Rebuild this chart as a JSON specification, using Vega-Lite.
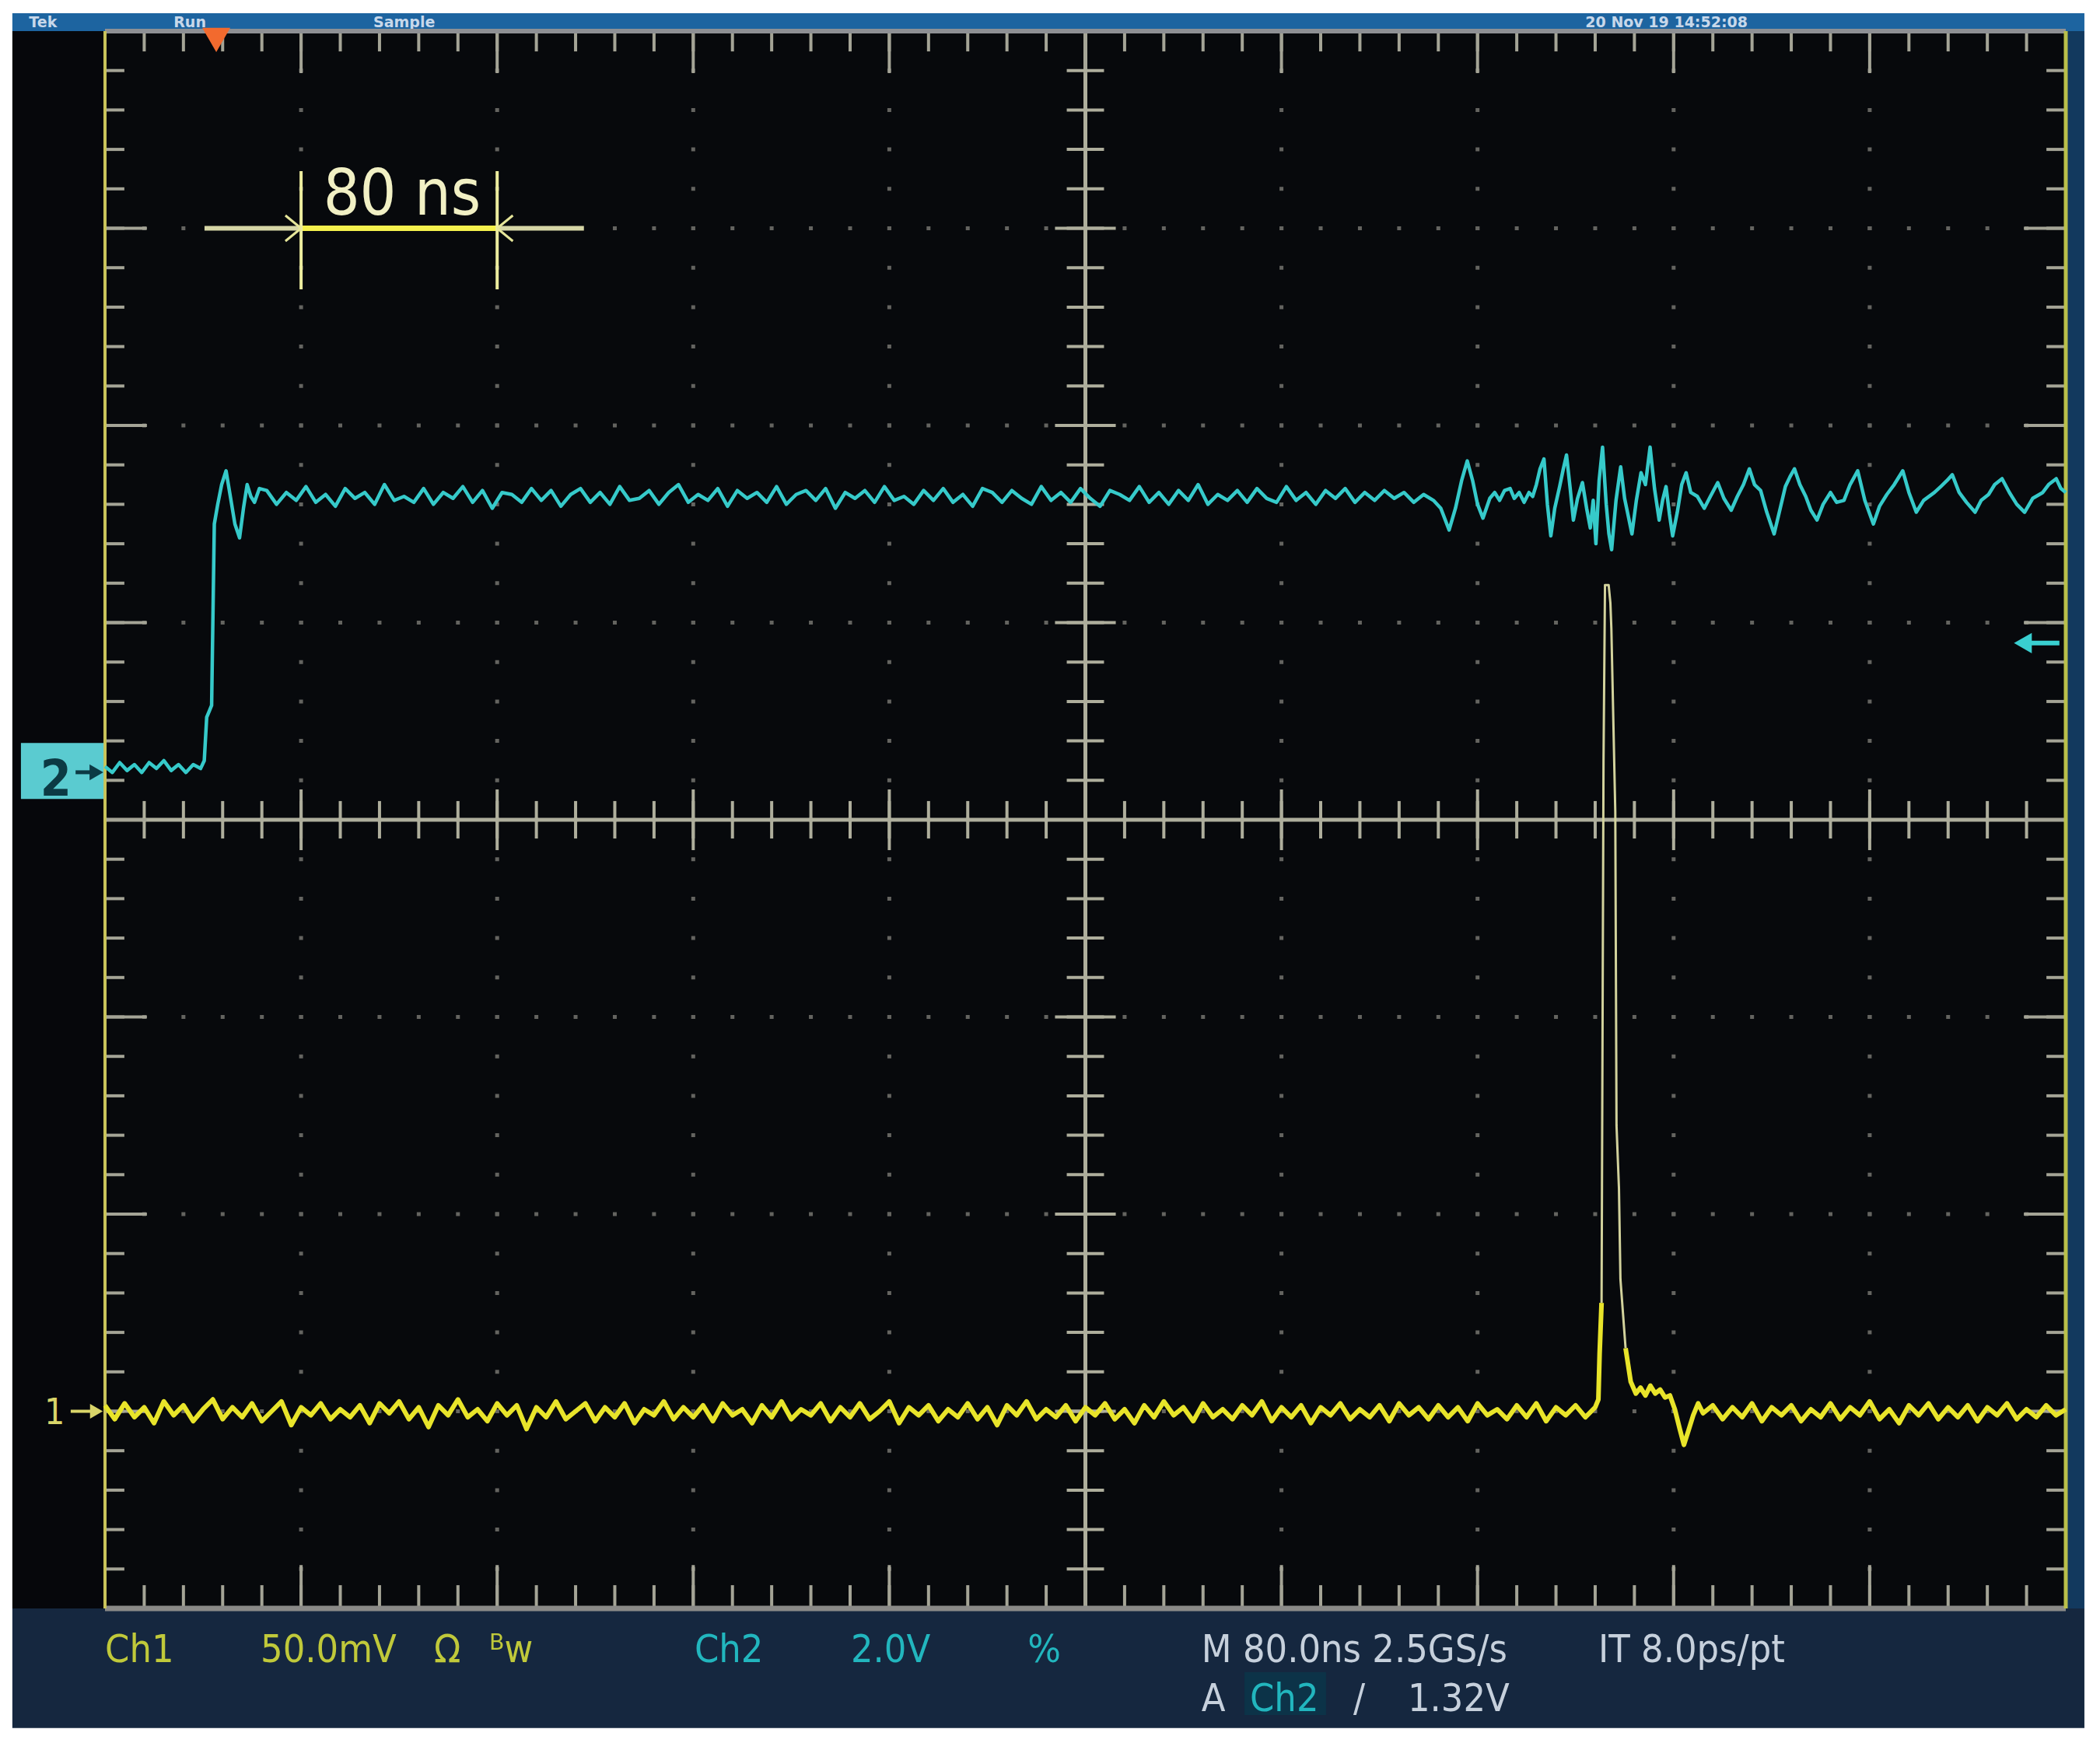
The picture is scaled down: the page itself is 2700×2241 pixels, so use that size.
{
"$schema": "https://vega.github.io/schema/vega-lite/v6.json",
"width": 2521,
"height": 2028,
"autosize": {"type": "none"},
"padding": {"left": 135, "top": 40, "right": 44, "bottom": 173},
"background": "#ffffff",
"config": {"view": {"stroke": null, "fill": "#07090c"}},
"datasets": {
"xt": [{"p":16},{"p":32},{"p":48},{"p":64},{"p":80},{"p":96},{"p":112},{"p":128},{"p":144},{"p":160},{"p":176},{"p":192},{"p":208},{"p":224},{"p":240},{"p":256},{"p":272},{"p":288},{"p":304},{"p":320},{"p":336},{"p":352},{"p":368},{"p":384},{"p":400},{"p":416},{"p":432},{"p":448},{"p":464},{"p":480},{"p":496},{"p":512},{"p":528},{"p":544},{"p":560},{"p":576},{"p":592},{"p":608},{"p":624},{"p":640},{"p":656},{"p":672},{"p":688},{"p":704},{"p":720},{"p":736},{"p":752},{"p":768},{"p":784}],
"xm": [{"p":80},{"p":160},{"p":240},{"p":320},{"p":400},{"p":480},{"p":560},{"p":640},{"p":720}],
"yt": [{"p":-3.8},{"p":-3.6},{"p":-3.4},{"p":-3.2},{"p":-3},{"p":-2.8},{"p":-2.6},{"p":-2.4},{"p":-2.2},{"p":-2},{"p":-1.8},{"p":-1.6},{"p":-1.4},{"p":-1.2},{"p":-1},{"p":-0.8},{"p":-0.6},{"p":-0.4},{"p":-0.2},{"p":0},{"p":0.2},{"p":0.4},{"p":0.6},{"p":0.8},{"p":1},{"p":1.2},{"p":1.4},{"p":1.6},{"p":1.8},{"p":2},{"p":2.2},{"p":2.4},{"p":2.6},{"p":2.8},{"p":3},{"p":3.2},{"p":3.4},{"p":3.6},{"p":3.8}],
"ym": [{"p":-3},{"p":-2},{"p":-1},{"p":0},{"p":1},{"p":2},{"p":3}],
"ch2": [{"t":0,"v":0.27},{"t":3,"v":0.24},{"t":6,"v":0.29},{"t":9,"v":0.25},{"t":12,"v":0.28},{"t":15,"v":0.24},{"t":18,"v":0.29},{"t":21,"v":0.26},{"t":24,"v":0.3},{"t":27,"v":0.25},{"t":30,"v":0.28},{"t":33,"v":0.24},{"t":36,"v":0.28},{"t":39,"v":0.26},{"t":40.5,"v":0.3},{"t":41.5,"v":0.52},{"t":42.5,"v":0.55},{"t":43.5,"v":0.58},{"t":44.6,"v":1.5},{"t":46,"v":1.6},{"t":47.6,"v":1.7},{"t":49.4,"v":1.77},{"t":51,"v":1.65},{"t":53,"v":1.5},{"t":54.9,"v":1.43},{"t":56.5,"v":1.58},{"t":58,"v":1.7},{"t":59.5,"v":1.64},{"t":61,"v":1.61},{"t":63,"v":1.68},
{"t":66,"v":1.67},{"t":70,"v":1.6},{"t":74,"v":1.66},{"t":78,"v":1.62},{"t":82,"v":1.69},{"t":86,"v":1.61},{"t":90,"v":1.65},{"t":94,"v":1.59},{"t":98,"v":1.68},{"t":102,"v":1.63},{"t":106,"v":1.66},{"t":110,"v":1.6},{"t":114,"v":1.7},{"t":118,"v":1.62},{"t":122,"v":1.64},{"t":126,"v":1.61},{"t":130,"v":1.68},{"t":134,"v":1.6},{"t":138,"v":1.66},{"t":142,"v":1.63},{"t":146,"v":1.69},{"t":150,"v":1.61},{"t":154,"v":1.67},{"t":158,"v":1.58},{"t":162,"v":1.66},{"t":166,"v":1.65},{"t":170,"v":1.61},{"t":174,"v":1.68},{"t":178,"v":1.62},{"t":182,"v":1.67},{"t":186,"v":1.59},{"t":190,"v":1.65},{"t":194,"v":1.68},{"t":198,"v":1.61},{"t":202,"v":1.66},{"t":206,"v":1.6},{"t":210,"v":1.69},{"t":214,"v":1.62},{"t":218,"v":1.63},{"t":222,"v":1.67},{"t":226,"v":1.6},{"t":230,"v":1.66},{"t":234,"v":1.7},{"t":238,"v":1.61},{"t":242,"v":1.65},{"t":246,"v":1.62},{"t":250,"v":1.68},{"t":254,"v":1.59},{"t":258,"v":1.67},{"t":262,"v":1.63},{"t":266,"v":1.66},{"t":270,"v":1.61},{"t":274,"v":1.69},{"t":278,"v":1.6},{"t":282,"v":1.65},{"t":286,"v":1.67},{"t":290,"v":1.62},{"t":294,"v":1.68},{"t":298,"v":1.58},{"t":302,"v":1.66},{"t":306,"v":1.63},{"t":310,"v":1.67},{"t":314,"v":1.61},{"t":318,"v":1.69},{"t":322,"v":1.62},{"t":326,"v":1.64},{"t":330,"v":1.6},{"t":334,"v":1.67},{"t":338,"v":1.62},{"t":342,"v":1.68},{"t":346,"v":1.61},{"t":350,"v":1.65},{"t":354,"v":1.59},{"t":358,"v":1.68},{"t":362,"v":1.66},{"t":366,"v":1.61},{"t":370,"v":1.67},{"t":374,"v":1.63},{"t":378,"v":1.6},{"t":382,"v":1.69},{"t":386,"v":1.62},{"t":390,"v":1.66},{"t":394,"v":1.61},{"t":398,"v":1.68},{"t":402,"v":1.63},{"t":406,"v":1.59},{"t":410,"v":1.67},{"t":414,"v":1.65},{"t":418,"v":1.62},{"t":422,"v":1.69},{"t":426,"v":1.61},{"t":430,"v":1.66},{"t":434,"v":1.6},{"t":438,"v":1.67},{"t":442,"v":1.62},{"t":446,"v":1.7},{"t":450,"v":1.6},{"t":454,"v":1.65},{"t":458,"v":1.62},{"t":462,"v":1.67},{"t":466,"v":1.61},{"t":470,"v":1.68},{"t":474,"v":1.63},{"t":478,"v":1.61},{"t":482,"v":1.69},{"t":486,"v":1.62},{"t":490,"v":1.66},{"t":494,"v":1.6},{"t":498,"v":1.67},{"t":502,"v":1.63},{"t":506,"v":1.68},{"t":510,"v":1.61},{"t":514,"v":1.66},{"t":518,"v":1.62},{"t":522,"v":1.67},{"t":526,"v":1.63},{"t":530,"v":1.66},{"t":534,"v":1.61},{"t":538,"v":1.65},{"t":542,"v":1.62},{"t":545,"v":1.58},{"t":548.4,"v":1.47},{"t":551,"v":1.58},{"t":553.5,"v":1.72},{"t":555.8,"v":1.82},{"t":558,"v":1.72},{"t":560,"v":1.6},{"t":562.2,"v":1.53},{"t":565,"v":1.63},{"t":567,"v":1.66},{"t":569,"v":1.62},{"t":571,"v":1.67},{"t":573.3,"v":1.68},{"t":575,"v":1.63},{"t":577,"v":1.66},{"t":579,"v":1.61},{"t":581,"v":1.66},{"t":582.5,"v":1.64},{"t":584,"v":1.7},{"t":585.5,"v":1.78},{"t":587.1,"v":1.83},{"t":588.5,"v":1.6},{"t":589.9,"v":1.44},{"t":591.5,"v":1.58},{"t":593.5,"v":1.69},{"t":595,"v":1.78},{"t":596.3,"v":1.85},{"t":597.8,"v":1.68},{"t":599.1,"v":1.52},{"t":600.8,"v":1.63},{"t":602.8,"v":1.71},{"t":604.5,"v":1.58},{"t":606,"v":1.48},{"t":607.2,"v":1.62},{"t":608.3,"v":1.4},{"t":609.6,"v":1.72},{"t":611,"v":1.89},{"t":612.5,"v":1.6},{"t":613.6,"v":1.45},{"t":614.7,"v":1.37},{"t":616.5,"v":1.62},{"t":618.4,"v":1.79},{"t":620,"v":1.63},{"t":621.5,"v":1.54},{"t":623,"v":1.45},{"t":624.8,"v":1.62},{"t":626.7,"v":1.76},{"t":628.5,"v":1.7},{"t":630.4,"v":1.89},{"t":632.2,"v":1.68},{"t":634.1,"v":1.52},{"t":635.5,"v":1.62},{"t":636.9,"v":1.69},{"t":638.3,"v":1.55},{"t":639.6,"v":1.44},{"t":641.5,"v":1.56},{"t":643.3,"v":1.7},{"t":645.1,"v":1.76},{"t":647,"v":1.66},{"t":649.7,"v":1.64},{"t":652.5,"v":1.58},{"t":655,"v":1.64},{"t":658,"v":1.71},{"t":660.5,"v":1.63},{"t":663.5,"v":1.57},{"t":666,"v":1.64},{"t":668.5,"v":1.7},{"t":670.9,"v":1.78},{"t":673,"v":1.7},{"t":675.5,"v":1.67},{"t":678,"v":1.56},{"t":681,"v":1.45},{"t":683.5,"v":1.58},{"t":685.6,"v":1.69},{"t":687.5,"v":1.74},{"t":689.3,"v":1.78},{"t":691.5,"v":1.7},{"t":693.9,"v":1.64},{"t":696,"v":1.57},{"t":698.5,"v":1.52},{"t":701,"v":1.6},{"t":704,"v":1.66},{"t":706.5,"v":1.61},{"t":709.5,"v":1.62},{"t":712,"v":1.7},{"t":715.1,"v":1.77},{"t":718,"v":1.62},{"t":721.5,"v":1.5},{"t":724,"v":1.59},{"t":727,"v":1.65},{"t":730,"v":1.7},{"t":733.5,"v":1.77},{"t":736,"v":1.66},{"t":739,"v":1.56},{"t":742,"v":1.62},{"t":746.4,"v":1.66},{"t":749,"v":1.69},{"t":751.5,"v":1.72},{"t":753.7,"v":1.75},{"t":756.5,"v":1.66},{"t":759.5,"v":1.61},{"t":763,"v":1.56},{"t":765.5,"v":1.62},{"t":768.5,"v":1.65},{"t":771,"v":1.7},{"t":774,"v":1.73},{"t":777,"v":1.66},{"t":780,"v":1.6},{"t":783.2,"v":1.56},{"t":786.5,"v":1.63},{"t":790.6,"v":1.66},{"t":793,"v":1.7},{"t":796.1,"v":1.73},{"t":798,"v":1.68},{"t":800,"v":1.66}],
"ch1a": [{"t":0,"v":-2.97},{"t":4,"v":-3.04},{"t":8,"v":-2.96},{"t":12,"v":-3.03},{"t":16,"v":-2.98},{"t":20,"v":-3.06},{"t":24,"v":-2.95},{"t":28,"v":-3.02},{"t":32,"v":-2.97},{"t":36,"v":-3.05},{"t":40,"v":-2.99},{"t":44,"v":-2.94},{"t":48,"v":-3.04},{"t":52,"v":-2.98},{"t":56,"v":-3.03},{"t":60,"v":-2.96},{"t":64,"v":-3.05},{"t":68,"v":-3},{"t":72,"v":-2.95},{"t":76,"v":-3.07},{"t":80,"v":-2.98},{"t":84,"v":-3.02},{"t":88,"v":-2.96},{"t":92,"v":-3.04},{"t":96,"v":-2.99},{"t":100,"v":-3.03},{"t":104,"v":-2.97},{"t":108,"v":-3.06},{"t":112,"v":-2.96},{"t":116,"v":-3.01},{"t":120,"v":-2.95},{"t":124,"v":-3.04},{"t":128,"v":-2.98},{"t":132,"v":-3.08},{"t":136,"v":-2.97},{"t":140,"v":-3.02},{"t":144,"v":-2.94},{"t":148,"v":-3.03},{"t":152,"v":-2.99},{"t":156,"v":-3.05},{"t":160,"v":-2.96},{"t":164,"v":-3.02},{"t":168,"v":-2.97},{"t":172,"v":-3.09},{"t":176,"v":-2.98},{"t":180,"v":-3.03},{"t":184,"v":-2.95},{"t":188,"v":-3.04},{"t":192,"v":-3},{"t":196,"v":-2.96},{"t":200,"v":-3.05},{"t":204,"v":-2.98},{"t":208,"v":-3.03},{"t":212,"v":-2.96},{"t":216,"v":-3.06},{"t":220,"v":-2.99},{"t":224,"v":-3.02},{"t":228,"v":-2.95},{"t":232,"v":-3.04},{"t":236,"v":-2.98},{"t":240,"v":-3.03},{"t":244,"v":-2.97},{"t":248,"v":-3.05},{"t":252,"v":-2.96},{"t":256,"v":-3.02},{"t":260,"v":-2.99},{"t":264,"v":-3.06},{"t":268,"v":-2.97},{"t":272,"v":-3.03},{"t":276,"v":-2.95},{"t":280,"v":-3.04},{"t":284,"v":-2.99},{"t":288,"v":-3.02},{"t":292,"v":-2.96},{"t":296,"v":-3.05},{"t":300,"v":-2.98},{"t":304,"v":-3.03},{"t":308,"v":-2.96},{"t":312,"v":-3.04},{"t":316,"v":-3},{"t":320,"v":-2.95},{"t":324,"v":-3.06},{"t":328,"v":-2.98},{"t":332,"v":-3.02},{"t":336,"v":-2.97},{"t":340,"v":-3.05},{"t":344,"v":-2.99},{"t":348,"v":-3.03},{"t":352,"v":-2.96},{"t":356,"v":-3.04},{"t":360,"v":-2.98},{"t":364,"v":-3.07},{"t":368,"v":-2.97},{"t":372,"v":-3.02},{"t":376,"v":-2.95},{"t":380,"v":-3.04},{"t":384,"v":-2.99},{"t":388,"v":-3.03},{"t":392,"v":-2.97},{"t":396,"v":-3.05},{"t":400,"v":-2.98},{"t":404,"v":-3.02},{"t":408,"v":-2.96},{"t":412,"v":-3.04},{"t":416,"v":-2.99},{"t":420,"v":-3.06},{"t":424,"v":-2.97},{"t":428,"v":-3.03},{"t":432,"v":-2.95},{"t":436,"v":-3.02},{"t":440,"v":-2.98},{"t":444,"v":-3.05},{"t":448,"v":-2.96},{"t":452,"v":-3.03},{"t":456,"v":-2.99},{"t":460,"v":-3.04},{"t":464,"v":-2.97},{"t":468,"v":-3.02},{"t":472,"v":-2.95},{"t":476,"v":-3.05},{"t":480,"v":-2.98},{"t":484,"v":-3.03},{"t":488,"v":-2.97},{"t":492,"v":-3.06},{"t":496,"v":-2.98},{"t":500,"v":-3.02},{"t":504,"v":-2.96},{"t":508,"v":-3.04},{"t":512,"v":-2.99},{"t":516,"v":-3.03},{"t":520,"v":-2.97},{"t":524,"v":-3.05},{"t":528,"v":-2.96},{"t":532,"v":-3.02},{"t":536,"v":-2.98},{"t":540,"v":-3.04},{"t":544,"v":-2.97},{"t":548,"v":-3.03},{"t":552,"v":-2.98},{"t":556,"v":-3.05},{"t":560,"v":-2.96},{"t":564,"v":-3.02},{"t":568,"v":-2.99},{"t":572,"v":-3.04},{"t":576,"v":-2.97},{"t":580,"v":-3.03},{"t":584,"v":-2.96},{"t":588,"v":-3.05},{"t":592,"v":-2.98},{"t":596,"v":-3.02},{"t":600,"v":-2.97},{"t":604,"v":-3.03},{"t":608,"v":-2.98},{"t":609.3,"v":-2.94},{"t":609.8,"v":-2.71},{"t":610.6,"v":-2.45}],
"ch1p": [{"t":610.6,"v":-2.45},{"t":611.4,"v":0.3},{"t":612,"v":1.19},{"t":613.5,"v":1.19},{"t":614.2,"v":1.1},{"t":614.6,"v":0.97},{"t":616.2,"v":0.04},{"t":616.7,"v":-1.55},{"t":617.7,"v":-1.87},{"t":618.3,"v":-2.33},{"t":620.4,"v":-2.68}],
"ch1b": [{"t":620.4,"v":-2.68},{"t":622.5,"v":-2.85},{"t":624.6,"v":-2.91},{"t":626.5,"v":-2.88},{"t":628.5,"v":-2.92},{"t":630.5,"v":-2.87},{"t":632.5,"v":-2.91},{"t":634.5,"v":-2.89},{"t":636.5,"v":-2.93},{"t":638.5,"v":-2.92},{"t":640.5,"v":-2.99},{"t":642.5,"v":-3.09},{"t":644.2,"v":-3.17},{"t":646,"v":-3.1},{"t":648,"v":-3.02},{"t":650,"v":-2.96},{"t":652,"v":-3.01},{"t":656,"v":-2.97},{"t":660,"v":-3.04},{"t":664,"v":-2.98},{"t":668,"v":-3.03},{"t":672,"v":-2.96},{"t":676,"v":-3.05},{"t":680,"v":-2.98},{"t":684,"v":-3.02},{"t":688,"v":-2.97},{"t":692,"v":-3.05},{"t":696,"v":-2.99},{"t":700,"v":-3.03},{"t":704,"v":-2.96},{"t":708,"v":-3.04},{"t":712,"v":-2.98},{"t":716,"v":-3.02},{"t":720,"v":-2.95},{"t":724,"v":-3.04},{"t":728,"v":-2.99},{"t":732,"v":-3.06},{"t":736,"v":-2.97},{"t":740,"v":-3.02},{"t":744,"v":-2.96},{"t":748,"v":-3.04},{"t":752,"v":-2.98},{"t":756,"v":-3.03},{"t":760,"v":-2.97},{"t":764,"v":-3.05},{"t":768,"v":-2.98},{"t":772,"v":-3.02},{"t":776,"v":-2.96},{"t":780,"v":-3.04},{"t":784,"v":-2.99},{"t":788,"v":-3.03},{"t":792,"v":-2.97},{"t":796,"v":-3.02},{"t":800,"v":-2.99}]
},
"layer": [
{"data":{"values":[{}]},"mark":{"type":"rect","color":"#1d64a0"},"encoding":{"x":{"datum":-37.8,"type":"quantitative","scale":{"domain":[0,800],"nice":false,"zero":false},"axis":null},"x2":{"datum":807.6},"y":{"datum":4.0,"type":"quantitative","scale":{"domain":[-4,4],"nice":false,"zero":false},"axis":null},"y2":{"datum":4.091}}},
{"data":{"values":[{}]},"mark":{"type":"rect","color":"#15273f"},"encoding":{"x":{"datum":-37.8,"type":"quantitative","axis":null},"x2":{"datum":807.6},"y":{"datum":-4.607,"type":"quantitative","axis":null},"y2":{"datum":-4.0}}},
{"data":{"values":[{}]},"mark":{"type":"rect","color":"#06070b"},"encoding":{"x":{"datum":-37.8,"type":"quantitative","axis":null},"x2":{"datum":0},"y":{"datum":-4.0,"type":"quantitative","axis":null},"y2":{"datum":4.0}}},
{"data":{"values":[{}]},"mark":{"type":"rect","color":"#12395e"},"encoding":{"x":{"datum":800,"type":"quantitative","axis":null},"x2":{"datum":807.6},"y":{"datum":-4.0,"type":"quantitative","axis":null},"y2":{"datum":4.0}}},
{"data":{"values":[{"s":"Tek","t":-31},{"s":"Run","t":28},{"s":"Sample","t":109.5},{"s":"20 Nov 19 14:52:08","t":604}]},"mark":{"type":"text","align":"left","baseline":"alphabetic","fontSize":19,"font":"DejaVu Sans","fontWeight":"bold","color":"#c8d8ea"},"encoding":{"x":{"field":"t","type":"quantitative","axis":null},"y":{"datum":4.02,"type":"quantitative","axis":null},"text":{"field":"s"}}},
{"data":{"name":"xm"},"mark":{"type":"rule","color":"#646460","strokeWidth":5,"strokeDash":[5,45.7],"strokeDashOffset":2.5},"encoding":{"x":{"field":"p","type":"quantitative","axis":null},"y":{"datum":-4,"type":"quantitative","axis":null},"y2":{"datum":4}}},
{"data":{"name":"ym"},"mark":{"type":"rule","color":"#646460","strokeWidth":5,"strokeDash":[5,45.42],"strokeDashOffset":2.5},"encoding":{"y":{"field":"p","type":"quantitative","axis":null},"x":{"datum":0,"type":"quantitative","axis":null},"x2":{"datum":800}}},
{"data":{"values":[{}]},"mark":{"type":"rule","color":"#aeae9c","strokeWidth":5},"encoding":{"x":{"datum":400,"type":"quantitative","axis":null},"y":{"datum":-4,"type":"quantitative","axis":null},"y2":{"datum":4}}},
{"data":{"values":[{}]},"mark":{"type":"rule","color":"#aeae9c","strokeWidth":5},"encoding":{"y":{"datum":0,"type":"quantitative","axis":null},"x":{"datum":0,"type":"quantitative","axis":null},"x2":{"datum":800}}},
{"data":{"name":"xt"},"mark":{"type":"rule","color":"#a4a496","strokeWidth":4},"encoding":{"x":{"field":"p","type":"quantitative","axis":null},"y":{"datum":4,"type":"quantitative","axis":null},"y2":{"datum":3.897}}},
{"data":{"name":"xt"},"mark":{"type":"rule","color":"#a4a496","strokeWidth":4},"encoding":{"x":{"field":"p","type":"quantitative","axis":null},"y":{"datum":-4,"type":"quantitative","axis":null},"y2":{"datum":-3.882}}},
{"data":{"name":"xm"},"mark":{"type":"rule","color":"#a4a496","strokeWidth":4},"encoding":{"x":{"field":"p","type":"quantitative","axis":null},"y":{"datum":4,"type":"quantitative","axis":null},"y2":{"datum":3.787}}},
{"data":{"name":"xm"},"mark":{"type":"rule","color":"#a4a496","strokeWidth":4},"encoding":{"x":{"field":"p","type":"quantitative","axis":null},"y":{"datum":-4,"type":"quantitative","axis":null},"y2":{"datum":-3.78}}},
{"data":{"name":"xt"},"mark":{"type":"rule","color":"#aeae9c","strokeWidth":4},"encoding":{"x":{"field":"p","type":"quantitative","axis":null},"y":{"datum":-0.095,"type":"quantitative","axis":null},"y2":{"datum":0.095}}},
{"data":{"name":"xm"},"mark":{"type":"rule","color":"#aeae9c","strokeWidth":4},"encoding":{"x":{"field":"p","type":"quantitative","axis":null},"y":{"datum":-0.154,"type":"quantitative","axis":null},"y2":{"datum":0.154}}},
{"data":{"name":"yt"},"mark":{"type":"rule","color":"#a4a496","strokeWidth":4},"encoding":{"y":{"field":"p","type":"quantitative","axis":null},"x":{"datum":0,"type":"quantitative","axis":null},"x2":{"datum":7.9}}},
{"data":{"name":"yt"},"mark":{"type":"rule","color":"#a4a496","strokeWidth":4},"encoding":{"y":{"field":"p","type":"quantitative","axis":null},"x":{"datum":800,"type":"quantitative","axis":null},"x2":{"datum":792.1}}},
{"data":{"name":"ym"},"mark":{"type":"rule","color":"#a4a496","strokeWidth":4},"encoding":{"y":{"field":"p","type":"quantitative","axis":null},"x":{"datum":0,"type":"quantitative","axis":null},"x2":{"datum":17.1}}},
{"data":{"name":"ym"},"mark":{"type":"rule","color":"#a4a496","strokeWidth":4},"encoding":{"y":{"field":"p","type":"quantitative","axis":null},"x":{"datum":800,"type":"quantitative","axis":null},"x2":{"datum":782.9}}},
{"data":{"name":"yt"},"mark":{"type":"rule","color":"#aeae9c","strokeWidth":4},"encoding":{"y":{"field":"p","type":"quantitative","axis":null},"x":{"datum":392.4,"type":"quantitative","axis":null},"x2":{"datum":407.6}}},
{"data":{"name":"ym"},"mark":{"type":"rule","color":"#aeae9c","strokeWidth":4},"encoding":{"y":{"field":"p","type":"quantitative","axis":null},"x":{"datum":387.6,"type":"quantitative","axis":null},"x2":{"datum":412.4}}},
{"data":{"values":[{}]},"mark":{"type":"rule","color":"#8e9094","strokeWidth":6},"encoding":{"y":{"datum":4,"type":"quantitative","axis":null},"x":{"datum":0,"type":"quantitative","axis":null},"x2":{"datum":800}}},
{"data":{"values":[{}]},"mark":{"type":"rule","color":"#8a8a88","strokeWidth":7},"encoding":{"y":{"datum":-4,"type":"quantitative","axis":null},"x":{"datum":0,"type":"quantitative","axis":null},"x2":{"datum":800}}},
{"data":{"values":[{}]},"mark":{"type":"rule","color":"#c9c35a","strokeWidth":4},"encoding":{"x":{"datum":0,"type":"quantitative","axis":null},"y":{"datum":-4,"type":"quantitative","axis":null},"y2":{"datum":4}}},
{"data":{"values":[{}]},"mark":{"type":"rule","color":"#b9bf4a","strokeWidth":5},"encoding":{"x":{"datum":800,"type":"quantitative","axis":null},"y":{"datum":-4,"type":"quantitative","axis":null},"y2":{"datum":4}}},
{"data":{"name":"ch1a"},"mark":{"type":"line","color":"#e8e42a","strokeWidth":6,"strokeJoin":"round"},"encoding":{"x":{"field":"t","type":"quantitative","axis":null},"y":{"field":"v","type":"quantitative","axis":null}}},
{"data":{"name":"ch1b"},"mark":{"type":"line","color":"#e8e42a","strokeWidth":6,"strokeJoin":"round"},"encoding":{"x":{"field":"t","type":"quantitative","axis":null},"y":{"field":"v","type":"quantitative","axis":null}}},
{"data":{"name":"ch1p"},"mark":{"type":"line","color":"#d2d29c","strokeWidth":3,"strokeJoin":"round"},"encoding":{"x":{"field":"t","type":"quantitative","axis":null},"y":{"field":"v","type":"quantitative","axis":null}}},
{"data":{"name":"ch2"},"mark":{"type":"line","color":"#36caca","strokeWidth":4.5,"strokeJoin":"round"},"encoding":{"x":{"field":"t","type":"quantitative","axis":null},"y":{"field":"v","type":"quantitative","axis":null}}},
{"data":{"values":[{}]},"mark":{"type":"rule","color":"#d6d6a6","strokeWidth":6},"encoding":{"y":{"datum":3.0,"type":"quantitative","axis":null},"x":{"datum":40.6,"type":"quantitative","axis":null},"x2":{"datum":195.4}}},
{"data":{"values":[{}]},"mark":{"type":"rule","color":"#f4f04c","strokeWidth":7},"encoding":{"y":{"datum":3.0,"type":"quantitative","axis":null},"x":{"datum":80,"type":"quantitative","axis":null},"x2":{"datum":160}}},
{"data":{"values":[{"p":80},{"p":160}]},"mark":{"type":"rule","color":"#ecec9e","strokeWidth":4},"encoding":{"x":{"field":"p","type":"quantitative","axis":null},"y":{"datum":2.69,"type":"quantitative","axis":null},"y2":{"datum":3.29}}},
{"data":{"values":[{"a":73.6,"b":3.065},{"a":73.6,"b":2.935}]},"mark":{"type":"rule","color":"#e6e69a","strokeWidth":3},"encoding":{"x":{"field":"a","type":"quantitative","axis":null},"y":{"field":"b","type":"quantitative","axis":null},"x2":{"datum":80},"y2":{"datum":3.0}}},
{"data":{"values":[{"a":166.4,"b":3.065},{"a":166.4,"b":2.935}]},"mark":{"type":"rule","color":"#e6e69a","strokeWidth":3},"encoding":{"x":{"field":"a","type":"quantitative","axis":null},"y":{"field":"b","type":"quantitative","axis":null},"x2":{"datum":160},"y2":{"datum":3.0}}},
{"data":{"values":[{}]},"mark":{"type":"text","text":"80 ns","align":"center","baseline":"alphabetic","fontSize":82,"font":"'DejaVu Sans Condensed', 'DejaVu Sans', sans-serif","color":"#f1f0c4"},"encoding":{"x":{"datum":121.2,"type":"quantitative","axis":null},"y":{"datum":3.07,"type":"quantitative","axis":null}}},
{"data":{"values":[{}]},"mark":{"type":"point","shape":"triangle-down","filled":true,"size":1300,"opacity":1,"color":"#f26a2e"},"encoding":{"x":{"datum":45.4,"type":"quantitative","axis":null},"y":{"datum":3.955,"type":"quantitative","axis":null}}},
{"data":{"values":[{}]},"mark":{"type":"rect","color":"#5acbd0"},"encoding":{"x":{"datum":-34.3,"type":"quantitative","axis":null},"x2":{"datum":-0.6},"y":{"datum":0.106,"type":"quantitative","axis":null},"y2":{"datum":0.39}}},
{"data":{"values":[{}]},"mark":{"type":"text","text":"2","align":"center","baseline":"alphabetic","fontSize":64,"fontWeight":"bold","font":"'DejaVu Sans Condensed', 'DejaVu Sans', sans-serif","color":"#0c3a44"},"encoding":{"x":{"datum":-20.1,"type":"quantitative","axis":null},"y":{"datum":0.122,"type":"quantitative","axis":null}}},
{"data":{"values":[{}]},"mark":{"type":"rule","color":"#0c3a44","strokeWidth":5},"encoding":{"y":{"datum":0.241,"type":"quantitative","axis":null},"x":{"datum":-12,"type":"quantitative","axis":null},"x2":{"datum":-4}}},
{"data":{"values":[{}]},"mark":{"type":"point","shape":"triangle-right","filled":true,"size":420,"opacity":1,"color":"#0c3a44"},"encoding":{"x":{"datum":-3.5,"type":"quantitative","axis":null},"y":{"datum":0.241,"type":"quantitative","axis":null}}},
{"data":{"values":[{}]},"mark":{"type":"text","text":"1","align":"center","baseline":"alphabetic","fontSize":46,"font":"'DejaVu Sans Condensed', 'DejaVu Sans', sans-serif","color":"#d9d56a"},"encoding":{"x":{"datum":-20.6,"type":"quantitative","axis":null},"y":{"datum":-3.065,"type":"quantitative","axis":null}}},
{"data":{"values":[{}]},"mark":{"type":"rule","color":"#d9d56a","strokeWidth":4},"encoding":{"y":{"datum":-3.0,"type":"quantitative","axis":null},"x":{"datum":-14,"type":"quantitative","axis":null},"x2":{"datum":-5}}},
{"data":{"values":[{}]},"mark":{"type":"point","shape":"triangle-right","filled":true,"size":360,"opacity":1,"color":"#d9d56a"},"encoding":{"x":{"datum":-3.5,"type":"quantitative","axis":null},"y":{"datum":-3.0,"type":"quantitative","axis":null}}},
{"data":{"values":[{}]},"mark":{"type":"rule","color":"#39cfd0","strokeWidth":6},"encoding":{"y":{"datum":0.896,"type":"quantitative","axis":null},"x":{"datum":783,"type":"quantitative","axis":null},"x2":{"datum":797.4}}},
{"data":{"values":[{}]},"mark":{"type":"point","shape":"triangle-left","filled":true,"size":700,"opacity":1,"color":"#39cfd0"},"encoding":{"x":{"datum":782.5,"type":"quantitative","axis":null},"y":{"datum":0.896,"type":"quantitative","axis":null}}},
{"data":{"values":[{}]},"mark":{"type":"rect","color":"#0c3348"},"encoding":{"x":{"datum":464.9,"type":"quantitative","axis":null},"x2":{"datum":498.2},"y":{"datum":-4.54,"type":"quantitative","axis":null},"y2":{"datum":-4.323}}},
{"data":{"values":[{"s":"Ch1","t":0,"v":-4.272},{"s":"50.0mV","t":63.5,"v":-4.272},{"s":"Ω","t":134.2,"v":-4.272},{"s":"ᴮw","t":156.8,"v":-4.272}]},"mark":{"type":"text","align":"left","baseline":"alphabetic","fontSize":50,"font":"'DejaVu Sans Condensed', 'DejaVu Sans', sans-serif","color":"#c0c93a"},"encoding":{"x":{"field":"t","type":"quantitative","axis":null},"y":{"field":"v","type":"quantitative","axis":null},"text":{"field":"s"}}},
{"data":{"values":[{"s":"Ch2","t":240.5,"v":-4.272},{"s":"2.0V","t":304.3,"v":-4.272},{"s":"%","t":376.4,"v":-4.272},{"s":"Ch2","t":467.1,"v":-4.521}]},"mark":{"type":"text","align":"left","baseline":"alphabetic","fontSize":50,"font":"'DejaVu Sans Condensed', 'DejaVu Sans', sans-serif","color":"#22b6be"},"encoding":{"x":{"field":"t","type":"quantitative","axis":null},"y":{"field":"v","type":"quantitative","axis":null},"text":{"field":"s"}}},
{"data":{"values":[{"s":"M 80.0ns 2.5GS/s","t":447.4,"v":-4.272},{"s":"IT 8.0ps/pt","t":609.3,"v":-4.272},{"s":"A","t":447.4,"v":-4.521},{"s":"/","t":509.3,"v":-4.521},{"s":"1.32V","t":531.5,"v":-4.521}]},"mark":{"type":"text","align":"left","baseline":"alphabetic","fontSize":50,"font":"'DejaVu Sans Condensed', 'DejaVu Sans', sans-serif","color":"#c6d0dc"},"encoding":{"x":{"field":"t","type":"quantitative","axis":null},"y":{"field":"v","type":"quantitative","axis":null},"text":{"field":"s"}}}
]
}
